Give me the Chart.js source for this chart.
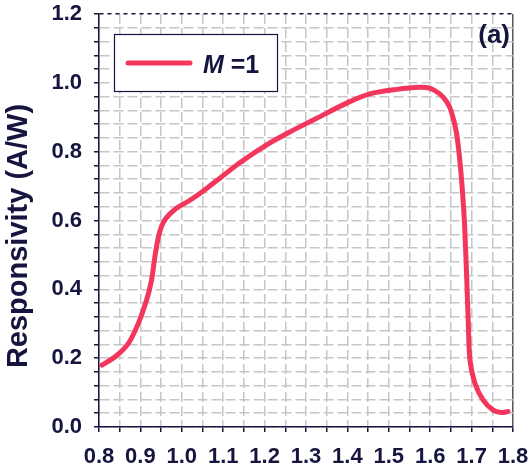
<!DOCTYPE html>
<html>
<head>
<meta charset="utf-8">
<script src="https://cdn.jsdelivr.net/npm/chart.js@4.4.1/dist/chart.umd.min.js"></script>
<style>
html,body{margin:0;padding:0;background:#fff;}
canvas{display:block;}
</style>
</head>
<body>
<canvas id="c" width="528" height="472"></canvas>
<script>
// Wavelength (µm)
const wavelength = [0.807,0.839,0.871,0.895,0.915,0.927,0.935,0.943,0.951,0.962,0.984,1.016,1.052,1.092,1.140,1.205,1.262,1.326,1.398,1.454,1.519,1.575,1.600,1.623,1.640,1.651,1.663,1.671,1.678,1.683,1.688,1.692,1.696,1.708,1.728,1.752,1.772,1.788];
// Responsivity (A/W), M = 1
const responsivity = [0.180,0.204,0.243,0.301,0.369,0.427,0.495,0.549,0.583,0.607,0.633,0.656,0.686,0.723,0.768,0.820,0.858,0.897,0.941,0.968,0.981,0.987,0.984,0.968,0.945,0.917,0.858,0.781,0.684,0.587,0.440,0.301,0.195,0.127,0.078,0.049,0.042,0.045];
const seriesLabel = 'M =1';
const xTickLabels = ['0.8','0.9','1.0','1.1','1.2','1.3','1.4','1.5','1.6','1.7','1.8'];
const yTickLabels = ['0.0','0.2','0.4','0.6','0.8','1.0','1.2'];
const yTitle = 'Responsivity (A/W)';
const panelTag = '(a)';

const NAVY = '#15153f';
const LINE = '#f3365c';
const GRID = '#c6c6c6';
const FONT = '"Liberation Sans", Arial, sans-serif';

const points = wavelength.map((x, i) => ({x, y: responsivity[i]}));

const overlay = {
  id: 'overlay',
  afterDraw(chart) {
    const ctx = chart.ctx;
    const a = chart.chartArea;
    ctx.save();
    ctx.fillStyle = NAVY;
    ctx.font = 'bold 29px ' + FONT;
    ctx.textAlign = 'center';
    ctx.textBaseline = 'alphabetic';
    ctx.translate(27, 236);
    ctx.rotate(-Math.PI / 2);
    ctx.fillText(yTitle, 0, 0);
    ctx.restore();

    ctx.save();
    const lx = a.left + 15, ly = a.top + 20, lw = 163, lh = 57;
    ctx.fillStyle = '#fff';
    ctx.fillRect(lx, ly, lw, lh);
    ctx.strokeStyle = NAVY;
    ctx.lineWidth = 1.2;
    ctx.strokeRect(lx + 0.5, ly + 0.5, lw, lh);
    ctx.strokeStyle = LINE;
    ctx.lineWidth = 5;
    ctx.lineCap = 'round';
    ctx.beginPath();
    ctx.moveTo(lx + 14, ly + 29);
    ctx.lineTo(lx + 76, ly + 29);
    ctx.stroke();
    ctx.fillStyle = NAVY;
    ctx.textBaseline = 'alphabetic';
    ctx.textAlign = 'left';
    const parts = seriesLabel.split(' ');
    ctx.font = 'italic bold 25px ' + FONT;
    ctx.fillText(parts[0], lx + 89, ly + 39);
    const mw = ctx.measureText(parts[0]).width;
    ctx.font = 'bold 25px ' + FONT;
    ctx.fillText(' ' + parts[1], lx + 89 + mw, ly + 39);

    ctx.font = 'bold 26px ' + FONT;
    ctx.textAlign = 'right';
    ctx.fillText(panelTag, a.right - 3, a.top + 29);
    ctx.restore();
  }
};

new Chart(document.getElementById('c'), {
  type: 'line',
  data: {
    datasets: [{
      label: seriesLabel,
      data: points,
      borderColor: LINE,
      borderWidth: 5,
      pointRadius: 0,
      fill: false,
      tension: 0.3,
      borderCapStyle: 'round',
      borderJoinStyle: 'round'
    }]
  },
  options: {
    responsive: false,
    animation: false,
    events: [],
    layout: {padding: {left: 0, top: 14, right: 15, bottom: 0}},
    plugins: {legend: {display: false}, tooltip: {enabled: false}},
    scales: {
      x: {
        type: 'linear',
        min: 0.8, max: 1.8,
        afterFit(s) { s.height = 45; s.paddingLeft = 0; s.paddingRight = 0; },
        ticks: {
          stepSize: 0.05,
          autoSkip: false,
          maxRotation: 0,
          padding: 12,
          color: NAVY,
          font: {family: FONT, size: 22, weight: 'bold'},
          callback(v) {
            const k = Math.round(v * 20);
            return k % 2 === 0 ? xTickLabels[(k - 16) / 2] : '';
          }
        },
        grid: {
          color: (c) => c.index === 20 ? '#555566' : GRID,
          lineWidth: 1.5,
          tickColor: NAVY,
          tickLength: 5,
          tickWidth: 1.5,
          tickBorderDash: []
        },
        border: {display: true, color: NAVY, width: 1.5,
          dash: (c) => c.index === 20 ? [] : [10, 4]}
      },
      y: {
        min: 0, max: 1.2,
        afterFit(s) { s.width = 99; s.paddingTop = 0; s.paddingBottom = 0; },
        ticks: {
          stepSize: 0.04,
          autoSkip: false,
          padding: 12,
          color: NAVY,
          font: {family: FONT, size: 22, weight: 'bold'},
          callback(v) {
            const k = Math.round(v * 25);
            return k % 5 === 0 ? yTickLabels[k / 5] : '';
          }
        },
        grid: {
          color: (c) => c.index === 30 ? NAVY : GRID,
          lineWidth: 1.5,
          tickColor: NAVY,
          tickLength: 5,
          tickWidth: 1.5,
          tickBorderDash: []
        },
        border: {display: true, color: NAVY, width: 1.5,
          dash: (c) => c.index === 30 ? [4, 4] : [10, 4]}
      }
    }
  },
  plugins: [overlay]
});
</script>
</body>
</html>
